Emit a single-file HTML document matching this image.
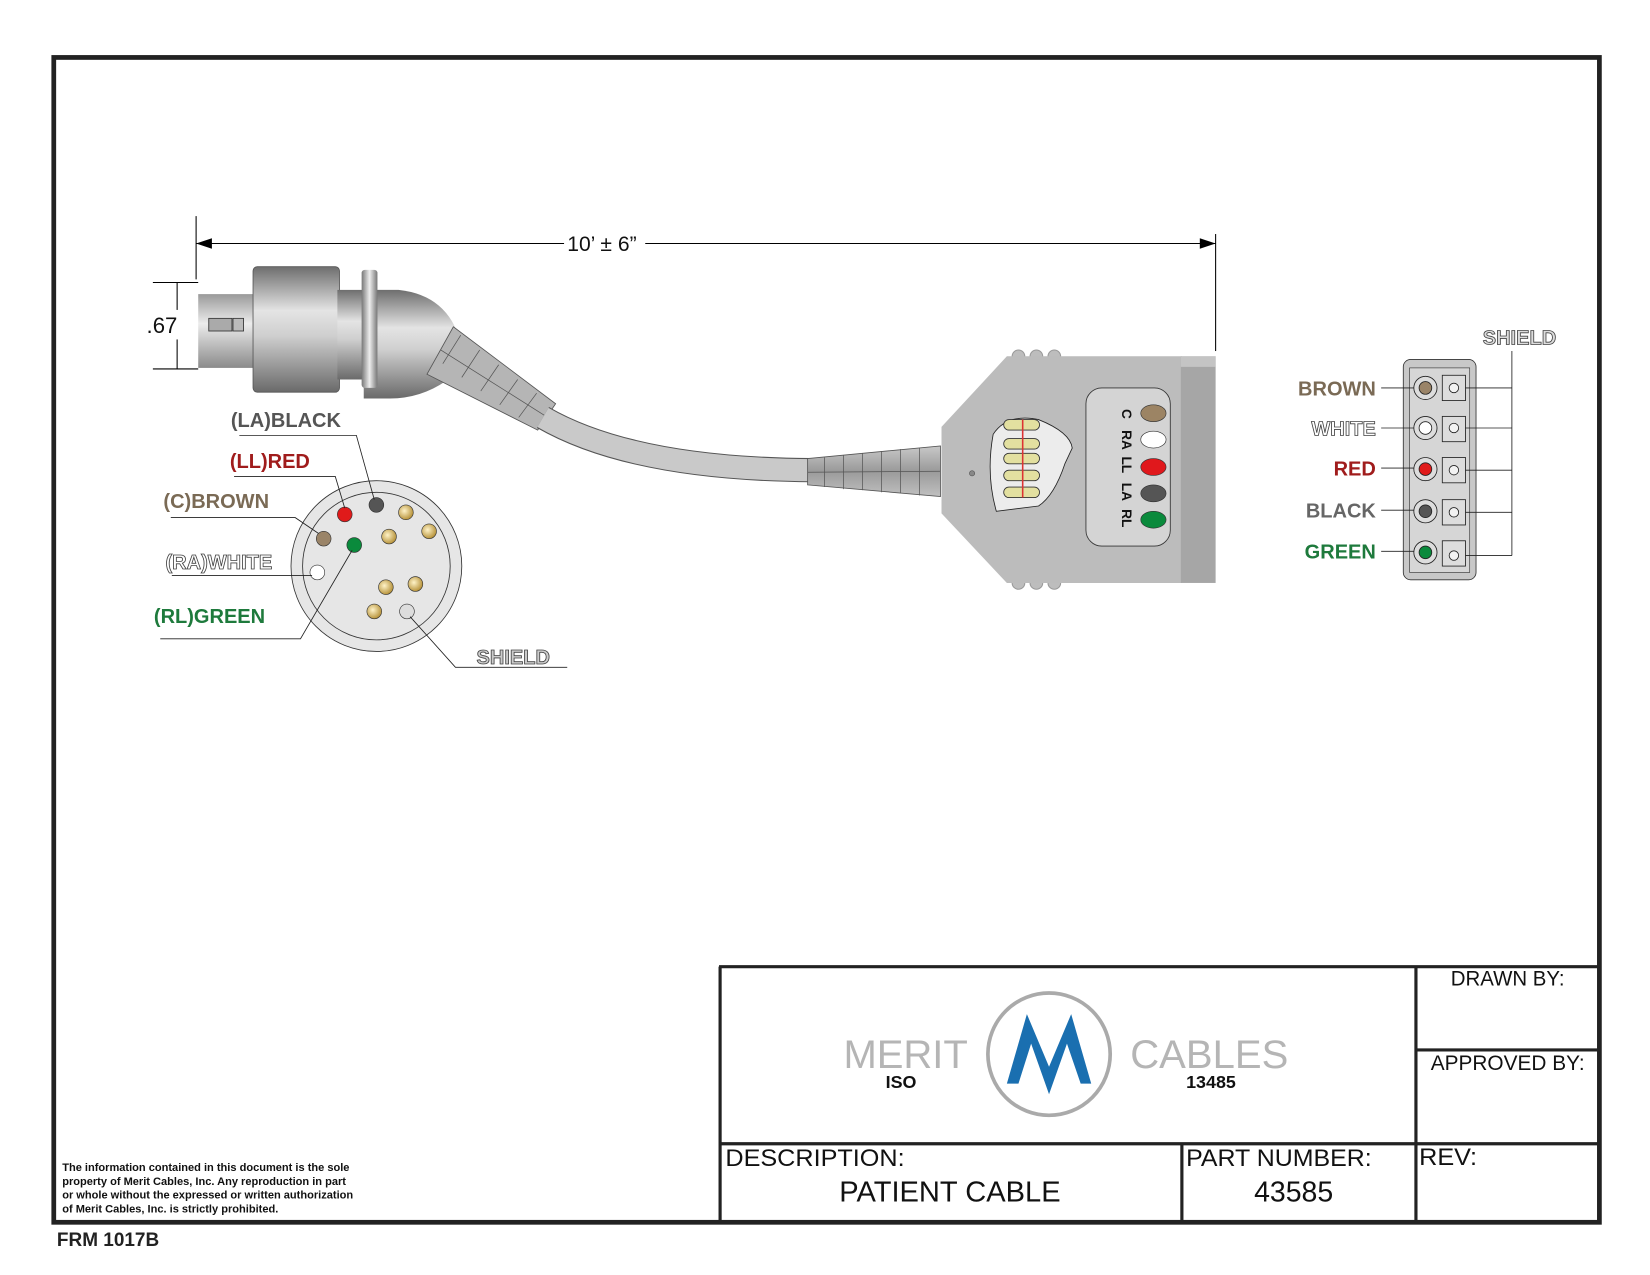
<!DOCTYPE html>
<html><head><meta charset="utf-8"><style>
html,body{margin:0;padding:0;background:#fff;}
svg{display:block;}
text{font-family:"Liberation Sans",sans-serif;}
</style></head><body>
<svg width="1650" height="1275" viewBox="0 0 1565 1209.5" preserveAspectRatio="none" xmlns="http://www.w3.org/2000/svg">
<defs>
<linearGradient id="cyl" x1="0" y1="0" x2="0" y2="1">
<stop offset="0" stop-color="#6e6e6e"/><stop offset="0.35" stop-color="#e4e4e4"/><stop offset="0.55" stop-color="#cfcfcf"/><stop offset="1" stop-color="#6a6a6a"/></linearGradient>
<linearGradient id="cyl2" x1="0" y1="0" x2="0" y2="1">
<stop offset="0" stop-color="#9a9a9a"/><stop offset="0.4" stop-color="#ececec"/><stop offset="1" stop-color="#8a8a8a"/></linearGradient>
<linearGradient id="ring" x1="0" y1="0" x2="1" y2="0">
<stop offset="0" stop-color="#777"/><stop offset="0.5" stop-color="#eee"/><stop offset="1" stop-color="#777"/></linearGradient>
<radialGradient id="gold" cx="0.4" cy="0.4" r="0.6"><stop offset="0" stop-color="#fff3c8"/><stop offset="1" stop-color="#b8943c"/></radialGradient>
<linearGradient id="sr" x1="0" y1="0" x2="0" y2="1"><stop offset="0" stop-color="#c8c8c8"/><stop offset="0.5" stop-color="#9a9a9a"/><stop offset="1" stop-color="#c0c0c0"/></linearGradient>
</defs>

<rect x="51" y="54.5" width="1466" height="1105" fill="none" stroke="#222" stroke-width="4.5"/>

<line x1="186" y1="205" x2="186" y2="265" stroke="#000" stroke-width="1"/>
<line x1="1153" y1="222" x2="1153" y2="333" stroke="#000" stroke-width="1"/>
<line x1="186" y1="231" x2="535" y2="231" stroke="#000" stroke-width="1"/>
<line x1="612" y1="231" x2="1153" y2="231" stroke="#000" stroke-width="1"/>
<polygon points="186,231 201,226 201,236" fill="#000"/>
<polygon points="1153,231 1138,226 1138,236" fill="#000"/>
<text x="538" y="238" font-size="20" fill="#111">10’ ± 6”</text>
<line x1="145" y1="268" x2="188" y2="268" stroke="#000"/>
<line x1="145" y1="350" x2="188" y2="350" stroke="#000"/>
<line x1="168" y1="268" x2="168" y2="294" stroke="#000"/>
<line x1="168" y1="322" x2="168" y2="350" stroke="#000"/>
<text x="139" y="316" font-size="21" fill="#111">.67</text>

<rect x="188" y="279" width="55" height="70" fill="url(#cyl2)"/>
<rect x="198" y="302" width="22" height="12" fill="#aaa" stroke="#333" stroke-width="0.8"/>
<rect x="221" y="302" width="10" height="12" fill="#bbb" stroke="#333" stroke-width="0.8"/>
<path d="M345,275 L378,275 Q425,280 437,325 L425,360 Q400,378 370,378 L345,378 Z" fill="url(#cyl)"/>
<path d="M405,355 L430,310 L527,383 L510,408 Z" fill="#b5b5b5" stroke="#555" stroke-width="0.8"/>
<g stroke="#555" stroke-width="0.7">
<line x1="418" y1="332" x2="518" y2="395"/>
<line x1="437" y1="318" x2="420" y2="345"/><line x1="455" y1="332" x2="438" y2="358"/><line x1="473" y1="346" x2="456" y2="371"/><line x1="491" y1="360" x2="474" y2="384"/><line x1="509" y1="373" x2="492" y2="396"/></g>
<rect x="240" y="253" width="82" height="119" rx="4" fill="url(#cyl)" stroke="#555" stroke-width="0.8"/>
<rect x="320" y="275" width="25" height="85" fill="url(#cyl)"/>
<rect x="343" y="256" width="15" height="112" rx="3" fill="url(#ring)"/>
<path d="M515,396 Q600,445 770,446" fill="none" stroke="#555" stroke-width="23"/>
<path d="M515,396 Q600,445 770,446" fill="none" stroke="#c9c9c9" stroke-width="21"/>
<path d="M766,435 L892,423 L892,471 L766,460 Z" fill="url(#sr)" stroke="#555" stroke-width="0.8"/>
<g stroke="#555" stroke-width="0.7"><line x1="782" y1="434" x2="782" y2="462"/><line x1="800" y1="432" x2="800" y2="464"/><line x1="818" y1="430" x2="818" y2="465"/><line x1="836" y1="428" x2="836" y2="467"/><line x1="854" y1="426" x2="854" y2="468"/><line x1="872" y1="425" x2="872" y2="470"/><line x1="766" y1="448" x2="892" y2="447"/></g>
<g fill="#bdbdbd" stroke="#999"><circle cx="966" cy="338" r="6"/><circle cx="983" cy="338" r="6"/><circle cx="1000" cy="338" r="6"/><circle cx="966" cy="553" r="6"/><circle cx="983" cy="553" r="6"/><circle cx="1000" cy="553" r="6"/></g>
<polygon points="955,338 1121,338 1121,553 955,553 893,487 893,405" fill="#bcbcbc"/>
<rect x="1120" y="338" width="33" height="215" fill="#a6a6a6"/>
<rect x="1120" y="338" width="33" height="10" fill="#c4c4c4"/>
<circle cx="922" cy="449" r="2.5" fill="#888" stroke="#555" stroke-width="0.6"/>
<path d="M942,412 Q955,392 985,398 Q1015,410 1017,425 L1010,440 Q1000,470 985,480 L945,485 Q935,450 942,412 Z" fill="#ececec" stroke="#222" stroke-width="0.8"/>
<g fill="#e3e0a0" stroke="#333" stroke-width="0.8">
<rect x="952" y="398" width="34" height="10" rx="5"/><rect x="952" y="430" width="34" height="10" rx="5"/><rect x="952" y="416" width="34" height="10" rx="5"/><rect x="952" y="446" width="34" height="10" rx="5"/><rect x="952" y="462" width="34" height="10" rx="5"/></g>
<g stroke="#d33" stroke-width="1.5"><line x1="970" y1="398" x2="970" y2="472"/></g>
<rect x="1030" y="368" width="80" height="150" rx="15" fill="#d4d4d4" stroke="#333" stroke-width="0.8"/>
<ellipse cx="1094" cy="392" rx="12" ry="8" fill="#9c8464" stroke="#333" stroke-width="0.6"/>
<ellipse cx="1094" cy="417" rx="12" ry="8" fill="#fff" stroke="#333" stroke-width="0.6"/>
<ellipse cx="1094" cy="443" rx="12" ry="8" fill="#e0181c" stroke="#333" stroke-width="0.6"/>
<ellipse cx="1094" cy="468" rx="12" ry="8" fill="#555" stroke="#333" stroke-width="0.6"/>
<ellipse cx="1094" cy="493" rx="12" ry="8" fill="#0a8a3c" stroke="#333" stroke-width="0.6"/>
<g font-size="13" font-weight="bold" fill="#111">
<text transform="translate(1064,388) rotate(90)">C</text>
<text transform="translate(1064,408) rotate(90)">RA</text>
<text transform="translate(1064,433) rotate(90)">LL</text>
<text transform="translate(1064,458) rotate(90)">LA</text>
<text transform="translate(1064,483) rotate(90)">RL</text></g>

<circle cx="357" cy="537" r="81" fill="#e6e6e6" stroke="#333" stroke-width="0.8"/>
<circle cx="357" cy="537" r="70" fill="none" stroke="#333" stroke-width="0.8"/>
<g stroke="#333" stroke-width="0.6">
<circle cx="357" cy="479" r="7" fill="#555"/>
<circle cx="327" cy="488" r="7" fill="#e01a1a"/>
<circle cx="307" cy="511" r="7" fill="#9a8468"/>
<circle cx="336" cy="517" r="7" fill="#0a8a3c"/>
<circle cx="301" cy="543" r="7" fill="#fff"/>
<circle cx="386" cy="580" r="7" fill="#ddd"/>
<g fill="url(#gold)"><circle cx="385" cy="486" r="7"/><circle cx="407" cy="504" r="7"/><circle cx="369" cy="509" r="7"/><circle cx="366" cy="557" r="7"/><circle cx="394" cy="554" r="7"/><circle cx="355" cy="580" r="7"/></g></g>
<g stroke="#222" stroke-width="0.8" fill="none">
<polyline points="227,413 338,413 355,474"/>
<polyline points="222,452 318,452 327,482"/>
<polyline points="162,491 280,491 302,506"/>
<polyline points="163,546 296,546"/>
<polyline points="152,606 285,606 334,522"/>
<polyline points="389,585 432,633 538,633"/>
</g>
<g font-size="19" font-weight="bold">
<text x="219" y="405" fill="#555">(LA)BLACK</text>
<text x="218" y="444" fill="#a01c1c">(LL)RED</text>
<text x="155" y="482" fill="#7a6a55">(C)BROWN</text>
<text x="157" y="540" fill="#fff" stroke="#444" stroke-width="0.8">(RA)WHITE</text>
<text x="146" y="591" fill="#1e7a3c">(RL)GREEN</text>
<text x="452" y="630" fill="#ccc" stroke="#444" stroke-width="0.8">SHIELD</text>
</g>

<rect x="1331" y="341" width="69" height="209" rx="7" fill="#c8c8c8" stroke="#333" stroke-width="0.8"/>
<rect x="1337" y="349" width="57" height="194" fill="#d6d6d6" stroke="#333" stroke-width="0.6"/>
<g stroke="#222" stroke-width="0.8">
<line x1="1434" y1="333" x2="1434" y2="527"/>
<g fill="none"><line x1="1310" y1="368" x2="1342" y2="368"/><line x1="1310" y1="406" x2="1342" y2="406"/><line x1="1310" y1="444" x2="1342" y2="444"/><line x1="1310" y1="484" x2="1342" y2="484"/><line x1="1310" y1="523" x2="1342" y2="523"/>
<line x1="1380" y1="368" x2="1434" y2="368"/><line x1="1380" y1="406" x2="1434" y2="406"/><line x1="1380" y1="446" x2="1434" y2="446"/><line x1="1380" y1="486" x2="1434" y2="486"/><line x1="1380" y1="527" x2="1434" y2="527"/></g>
<g fill="#ddd"><circle cx="1352" cy="368" r="11"/><circle cx="1352" cy="406" r="11"/><circle cx="1352" cy="445" r="11"/><circle cx="1352" cy="485" r="11"/><circle cx="1352" cy="524" r="11"/>
<rect x="1368" y="356" width="22" height="24"/><rect x="1368" y="395" width="22" height="24"/><rect x="1368" y="434" width="22" height="24"/><rect x="1368" y="474" width="22" height="24"/><rect x="1368" y="513" width="22" height="24"/></g>
<circle cx="1352" cy="368" r="6" fill="#9a8468"/><circle cx="1352" cy="406" r="6" fill="#fff"/><circle cx="1352" cy="445" r="6" fill="#e01a1a"/><circle cx="1352" cy="485" r="6" fill="#555"/><circle cx="1352" cy="524" r="6" fill="#0a8a3c"/>
<g fill="#f2f2f2"><circle cx="1379" cy="368" r="4.5"/><circle cx="1379" cy="406" r="4.5"/><circle cx="1379" cy="446" r="4.5"/><circle cx="1379" cy="486" r="4.5"/><circle cx="1379" cy="527" r="4.5"/></g>
</g>
<g font-size="19" font-weight="bold" text-anchor="end">
<text x="1305" y="375" fill="#7a6a55">BROWN</text>
<text x="1305" y="413" fill="#fff" stroke="#444" stroke-width="0.8">WHITE</text>
<text x="1305" y="451" fill="#a01c1c">RED</text>
<text x="1305" y="491" fill="#666">BLACK</text>
<text x="1305" y="530" fill="#1e7a3c">GREEN</text>
<text x="1476" y="327" fill="#ddd" stroke="#444" stroke-width="0.8">SHIELD</text>
</g>

<g stroke="#222" stroke-width="3" fill="none">
<line x1="682" y1="917" x2="1517" y2="917"/>
<line x1="683" y1="917" x2="683" y2="1160"/>
<line x1="682" y1="1085" x2="1517" y2="1085"/>
<line x1="1343" y1="917" x2="1343" y2="1160"/>
<line x1="1343" y1="996" x2="1517" y2="996"/>
<line x1="1121" y1="1085" x2="1121" y2="1160"/>
</g>
<g font-size="20" fill="#111">
<text x="1430" y="935" text-anchor="middle" textLength="108" lengthAdjust="spacingAndGlyphs">DRAWN BY:</text>
<text x="1430" y="1015" text-anchor="middle" textLength="146" lengthAdjust="spacingAndGlyphs">APPROVED BY:</text>
<text x="688" y="1106" font-size="23" textLength="170" lengthAdjust="spacingAndGlyphs">DESCRIPTION:</text>
<text x="1125" y="1106" font-size="23" textLength="176" lengthAdjust="spacingAndGlyphs">PART NUMBER:</text>
<text x="1346" y="1105" font-size="23" textLength="55" lengthAdjust="spacingAndGlyphs">REV:</text>
<text x="901" y="1140" font-size="27" text-anchor="middle" textLength="210" lengthAdjust="spacingAndGlyphs">PATIENT CABLE</text>
<text x="1227" y="1140" font-size="27" text-anchor="middle">43585</text>
</g>
<circle cx="995" cy="1000" r="58" fill="none" stroke="#aaa" stroke-width="3.5"/>
<polygon points="955,1028 974,962 995,1012 1016,962 1035,1028 1025,1028 1012,990 995,1038 978,990 966,1028" fill="#1a6fb0"/>
<text x="800" y="1013" font-size="38" fill="#b5b5b5" textLength="118" lengthAdjust="spacing">MERIT</text>
<text x="1072" y="1013" font-size="38" fill="#b5b5b5" textLength="150" lengthAdjust="spacing">CABLES</text>
<text x="840" y="1032" font-size="17" font-weight="bold" fill="#111">ISO</text>
<text x="1125" y="1032" font-size="17" font-weight="bold" fill="#111">13485</text>

<g font-size="10.5" fill="#111" font-weight="bold">
<text x="59" y="1111">The information contained in this document is the sole</text>
<text x="59" y="1124">property of Merit Cables, Inc. Any reproduction in part</text>
<text x="59" y="1137">or whole without the expressed or written authorization</text>
<text x="59" y="1150">of Merit Cables, Inc. is strictly prohibited.</text>
</g>
<text x="54" y="1182" font-size="18" font-weight="bold" fill="#222">FRM 1017B</text>
</svg>
</body></html>
